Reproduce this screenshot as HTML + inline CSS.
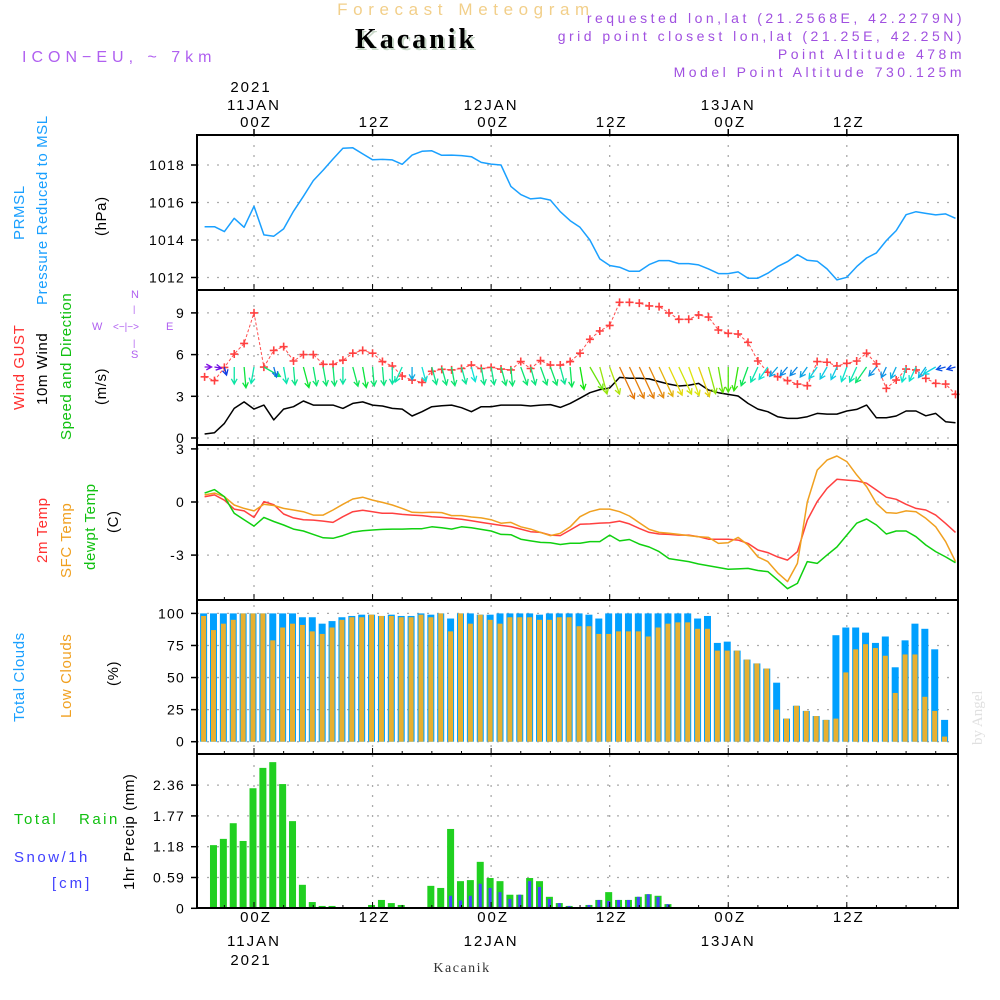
<!DOCTYPE html>
<html><head><meta charset="utf-8"><style>
html,body{margin:0;padding:0;background:#fff;}
svg{display:block;font-family:"Liberation Sans",sans-serif;}
.t{font-size:15px;letter-spacing:0.6px;}
</style></head><body>
<svg id="chart" width="1000" height="1000" viewBox="0 0 1000 1000">
<text x="466" y="15" text-anchor="middle" fill="#f2cf8a" font-size="17" letter-spacing="5.6">Forecast Meteogram</text>
<text x="418" y="50" text-anchor="middle" fill="#c8d8c8" font-family="Liberation Serif,serif" font-weight="bold" font-size="28" letter-spacing="3">Kacanik</text>
<text x="416" y="48" text-anchor="middle" fill="#000" font-family="Liberation Serif,serif" font-weight="bold" font-size="28" letter-spacing="3">Kacanik</text>
<text x="22" y="62" fill="#b060f0" font-size="16" letter-spacing="5">ICON−EU, ~ 7km</text>
<g fill="#a050e0" font-size="14" letter-spacing="3.5" text-anchor="end">
<text x="965" y="23">requested lon,lat (21.2568E, 42.2279N)</text>
<text x="965" y="41">grid point closest lon,lat (21.25E, 42.25N)</text>
<text x="965" y="59">Point Altitude 478m</text>
<text x="965" y="77">Model Point Altitude 730.125m</text>
</g>
<g id="grid"></g>
<g id="marks"></g>
<g id="axes"></g>
<g id="labels">
<text transform="translate(24,240) rotate(-90)" fill="#1aa0ff" class="t">PRMSL</text>
<text transform="translate(47,305) rotate(-90)" fill="#1aa0ff" class="t">Pressure Reduced to MSL</text>
<text transform="translate(106,236) rotate(-90)" fill="#000" class="t">(hPa)</text>
<text transform="translate(24,410) rotate(-90)" fill="#ff3030" class="t">Wind GUST</text>
<text transform="translate(47,405) rotate(-90)" fill="#000" class="t">10m Wind</text>
<text transform="translate(71,440) rotate(-90)" fill="#10c010" class="t">Speed and Direction</text>
<text transform="translate(106,405) rotate(-90)" fill="#000" class="t">(m/s)</text>
<g fill="#b060f0" font-size="11">
<text x="131" y="298">N</text><text x="92" y="330">W</text><text x="166" y="330">E</text><text x="131" y="358">S</text>
<text x="113" y="330" font-size="10">&lt;−|−&gt;</text>
<text x="133" y="312" font-size="9">|</text><text x="133" y="346" font-size="9">|</text>
</g>
<text transform="translate(47,563) rotate(-90)" fill="#ff3030" class="t">2m Temp</text>
<text transform="translate(71,578) rotate(-90)" fill="#f0a020" class="t">SFC Temp</text>
<text transform="translate(95,570) rotate(-90)" fill="#10c010" class="t">dewpt Temp</text>
<text transform="translate(118,533) rotate(-90)" fill="#000" class="t">(C)</text>
<text transform="translate(24,722) rotate(-90)" fill="#1aa0ff" class="t">Total Clouds</text>
<text transform="translate(71,718) rotate(-90)" fill="#f0a020" class="t">Low Clouds</text>
<text transform="translate(118,686) rotate(-90)" fill="#000" class="t">(%)</text>
<text x="14" y="824" fill="#10c010" font-size="15" letter-spacing="2.5">Total</text>
<text x="79" y="824" fill="#10c010" font-size="15" letter-spacing="2.5">Rain</text>
<text x="14" y="862" fill="#4040ff" font-size="15" letter-spacing="2.5">Snow/1h</text>
<text x="52" y="888" fill="#4040ff" font-size="15" letter-spacing="3">[cm]</text>
<text transform="translate(134,890) rotate(-90)" fill="#000" class="t">1hr Precip (mm)</text>
<text transform="translate(982,745) rotate(-90)" fill="#e0e0e0" font-family="Liberation Serif,serif" font-size="15">by Angel</text>
<text x="462" y="972" text-anchor="middle" fill="#333" font-family="Liberation Serif,serif" font-size="14" letter-spacing="1.5">Kacanik</text>
</g>
</svg>
<script>
const hours = [];
for (let h = -5; h <= 71; h++) hours.push(h);
const pressure = [1014.71,1014.71,1014.45,1015.16,1014.68,1015.8,1014.27,1014.2,1014.59,1015.53,1016.33,1017.17,1017.73,1018.32,1018.89,1018.92,1018.59,1018.28,1018.3,1018.27,1018.04,1018.53,1018.73,1018.76,1018.52,1018.53,1018.5,1018.44,1018.14,1018.05,1018,1016.86,1016.42,1016.19,1016.24,1016.13,1015.51,1015.03,1014.68,1014.0,1012.99,1012.64,1012.55,1012.33,1012.33,1012.69,1012.9,1012.9,1012.74,1012.74,1012.67,1012.46,1012.21,1012.21,1012.3,1011.96,1011.96,1012.23,1012.58,1012.85,1013.22,1012.92,1012.87,1012.46,1011.87,1012.01,1012.58,1013.04,1013.31,1013.97,1014.5,1015.35,1015.51,1015.42,1015.34,1015.39,1015.16];
const gust = [4.4,4.13,5.08,6.04,6.8,9.0,5.1,6.3,6.57,5.54,6.0,6.0,5.3,5.3,5.6,6.1,6.3,6.1,5.5,5.18,4.46,4.17,4.0,4.8,4.94,4.9,5.0,5.25,5.0,5.08,4.96,4.9,5.5,5.0,5.57,5.25,5.25,5.5,6.1,7.1,7.7,8.1,9.76,9.76,9.7,9.5,9.45,9.0,8.54,8.54,8.85,8.7,7.77,7.53,7.48,6.88,5.54,4.73,4.41,4.13,3.88,3.76,5.5,5.45,5.18,5.37,5.54,6.1,5.33,3.57,4.17,4.96,4.9,4.29,3.93,3.88,3.14];
const wind10 = [0.29,0.38,1.05,2.13,2.6,2.08,2.37,1.3,2.08,2.25,2.66,2.37,2.37,2.37,2.13,2.49,2.6,2.37,2.3,2.13,2.08,1.58,1.89,2.25,2.32,2.37,2.18,1.89,2.25,2.25,2.37,2.37,2.37,2.3,2.37,2.4,2.2,2.49,2.86,3.26,3.48,3.6,4.36,4.3,4.3,4.25,4.06,3.88,3.74,3.8,3.93,3.45,3.26,3.14,3.02,2.49,2.08,1.89,1.53,1.41,1.41,1.53,1.77,1.72,1.72,1.94,2.06,2.37,1.45,1.45,1.58,1.94,1.94,1.6,1.77,1.17,1.1];
const windDir = [90,80,15,0,5,-10,60,15,10,5,15,10,10,5,0,15,10,5,5,0,-25,0,15,15,15,10,15,15,10,10,15,5,20,15,20,20,15,5,10,30,15,20,25,25,25,25,25,25,25,20,20,15,10,0,-10,-20,-25,-35,-40,-40,-40,-35,-35,-30,-25,-20,-25,-35,-40,-25,-25,-15,-25,-35,-60,-75,-75];
const temp2m = [0.3,0.4,0.1,-0.4,-0.5,-0.87,0.02,-0.15,-0.68,-0.9,-1.0,-1.02,-1.08,-1.15,-0.83,-0.55,-0.47,-0.55,-0.64,-0.64,-0.7,-0.74,-0.77,-0.83,-0.87,-0.92,-0.98,-1.06,-1.15,-1.24,-1.32,-1.39,-1.53,-1.68,-1.72,-1.87,-1.9,-1.58,-1.26,-1.24,-1.19,-1.17,-1.08,-1.24,-1.49,-1.72,-1.81,-1.83,-1.87,-1.87,-1.96,-2.1,-2.1,-2.1,-2.15,-2.34,-2.71,-2.86,-3.1,-3.28,-2.81,-1.02,0.02,0.77,1.28,1.24,1.19,1.06,0.68,0.27,0.15,-0.13,-0.36,-0.45,-0.74,-1.21,-1.72];
const sfcTemp = [0.4,0.5,0.3,-0.17,-0.36,-0.5,-0.13,-0.2,-0.36,-0.45,-0.55,-0.74,-0.74,-0.45,-0.13,0.17,0.27,0.11,-0.02,-0.17,-0.36,-0.58,-0.6,-0.58,-0.6,-0.77,-0.77,-0.85,-0.9,-1.0,-1.2,-1.15,-1.4,-1.53,-1.72,-1.9,-1.77,-1.4,-0.83,-0.55,-0.4,-0.4,-0.55,-0.79,-1.17,-1.55,-1.72,-1.77,-1.83,-1.9,-1.96,-2.0,-2.34,-2.3,-2.0,-2.43,-3.1,-3.37,-4.0,-4.5,-3.47,0.0,1.8,2.37,2.6,2.28,1.53,0.87,-0.08,-0.6,-0.64,-0.5,-0.55,-0.92,-1.4,-2.24,-3.37];
const dewpt = [0.5,0.7,0.3,-0.64,-1.0,-1.36,-0.87,-1.1,-1.3,-1.53,-1.64,-1.83,-2.02,-2.05,-1.9,-1.7,-1.62,-1.58,-1.55,-1.53,-1.53,-1.51,-1.51,-1.4,-1.45,-1.53,-1.4,-1.45,-1.55,-1.64,-1.83,-1.85,-2.1,-2.2,-2.28,-2.3,-2.4,-2.33,-2.33,-2.24,-2.24,-1.87,-2.2,-2.12,-2.38,-2.54,-2.8,-3.2,-3.28,-3.37,-3.5,-3.6,-3.7,-3.8,-3.78,-3.75,-3.87,-3.93,-4.4,-4.9,-4.6,-3.37,-3.47,-3.0,-2.54,-1.87,-1.2,-0.96,-1.3,-1.81,-1.64,-1.64,-1.96,-2.43,-2.8,-3.1,-3.43];
const barHours = [];
for (let h = -5; h <= 70; h++) barHours.push(h);
const totalClouds = [100,100,100,100,100,100,100,100,100,100,97,97,92,94,97,98,99,99,98,99,98,98,100,99,100,96,100,100,99,99,100,100,100,100,99,100,100,100,100,99,96,100,100,100,100,100,100,100,100,100,96,98,77,78,71,64,61,57,46,18,28,24,20,17,83,89,89,85,77,82,58,79,92,88,72,17];
const lowClouds = [98,87,92,95,100,100,100,79,89,92,91,86,84,89,95,97,97,99,98,98,97,97,99,97,100,86,100,92,99,95,92,97,97,97,95,95,97,97,90,90,84,84,86,86,86,82,89,92,93,93,88,88,71,71,71,64,61,57,25,18,28,24,20,17,18,54,72,76,73,67,38,68,68,35,24,4];
const rain = [0,1.21,1.33,1.63,1.29,2.30,2.69,2.80,2.38,1.67,0.45,0.12,0.045,0.045,0.025,0,0,0.064,0.16,0.10,0.064,0,0,0.43,0.39,1.52,0.52,0.54,0.89,0.58,0.52,0.26,0.26,0.58,0.52,0.22,0.10,0.045,0.025,0.064,0.16,0.31,0.16,0.16,0.22,0.27,0.24,0.08,0.025,0.005,0,0,0,0,0,0,0,0,0,0,0,0,0,0,0,0,0,0,0,0,0,0,0,0,0,0];
const snow = [0,0,0,0,0,0,0,0,0,0,0,0,0,0,0,0,0,0,0,0,0,0,0,0,0,0.24,0.15,0.24,0.47,0.39,0.31,0.18,0.26,0.52,0.41,0.18,0.10,0.045,0.025,0.064,0.16,0.14,0.16,0.16,0.22,0.27,0.22,0.08,0.025,0.005,0,0,0,0,0,0,0,0,0,0,0,0,0,0,0,0,0,0,0,0,0,0,0,0,0,0];
const pressTicks = [1012,1014,1016,1018];
const windTicks = [0,3,6,9];
const tempTicks = [-3,0,3];
const cloudTicks = [0,25,50,75,100];
const precipTicks = [0,0.59,1.18,1.77,2.36];
const timeTicks = [0,12,24,36,48,60];
const timeLabels = ["00Z","12Z","00Z","12Z","00Z","12Z"];
const dayLabels = ["11JAN","","12JAN","","13JAN",""];

const NS = "http://www.w3.org/2000/svg";
const L = 197, R = 958;
function xs(h){ return 254 + 9.88*h; }
const yP = v => 165 + (1018 - v)*18.75;
const yW = v => 438 - 13.9*v;
const yT = v => 502 - 17.7*v;
const yC = v => 741.7 - 1.283*v;
const yR = v => 908.3 - 52.2*v;
const panels = [[135,290],[290,445],[445,600],[600,754],[754,908]];

function el(tag, attrs, parent){
  const e = document.createElementNS(NS, tag);
  for (const k in attrs) e.setAttribute(k, attrs[k]);
  parent.appendChild(e);
  return e;
}
const grid = document.getElementById('grid');
const marks = document.getElementById('marks');
const axes = document.getElementById('axes');

function hgrid(ticks, yf, fmt, name){
  ticks.forEach(t => {
    const y = yf(t);
    const g = el('line', {x1:L, x2:R, y1:y, y2:y, stroke:'#aaa', 'stroke-width':1.3, 'stroke-dasharray':'2 8'}, grid);
    
    
    const tk = el('line', {x1:L-6, x2:L, y1:y, y2:y, stroke:'#000', 'stroke-width':1.5}, axes);
    
    
    const tx = el('text', {x:L-12, y:y+5, 'text-anchor':'end', 'font-size':14, 'letter-spacing':1.2, fill:'#000'}, axes);
    tx.textContent = fmt(t);
    
    
  });
}
hgrid(pressTicks, yP, t=>String(t), 'pressure');
hgrid(windTicks, yW, t=>String(t), 'wind');
hgrid(tempTicks, yT, t=>String(t), 'temp');
hgrid(cloudTicks, yC, t=>String(t), 'cloud');
hgrid(precipTicks, yR, t=>t===0?'0':t.toFixed(2), 'precip');

timeTicks.forEach(h => {
  const x = xs(h);
  const v = el('line', {x1:x, x2:x, y1:135, y2:908, stroke:'#aaa', 'stroke-width':1.3, 'stroke-dasharray':'2 8'}, grid);
  
  
});
for (let h = -3; h <= 71; h += 3) {
  const x = xs(h), big = h % 12 === 0;
  panels.forEach(p => {
    const a = el('line', {x1:x, x2:x, y1:p[1], y2:p[1]-(big?6:3), stroke:'#000', 'stroke-width':1}, axes);
    
    
  });
  if (big) {
    const a = el('line', {x1:x, x2:x, y1:135, y2:129, stroke:'#000', 'stroke-width':1.5}, axes);
    
    
  }
}
timeTicks.forEach((h, i) => {
  const x = xs(h) + 2;
  const a = el('text', {x:x, y:127, 'text-anchor':'middle', 'font-size':15, 'letter-spacing':2}, axes);
  a.textContent = timeLabels[i];
  
  
  const b = el('text', {x:x, y:922, 'text-anchor':'middle', 'font-size':15, 'letter-spacing':2}, axes);
  b.textContent = timeLabels[i];
  
  
  if (dayLabels[i]) {
    const c = el('text', {x:x-2, y:110, 'text-anchor':'middle', 'font-size':15, 'letter-spacing':2}, axes);
    c.textContent = dayLabels[i];
    
    
    const d = el('text', {x:x-2, y:946, 'text-anchor':'middle', 'font-size':15, 'letter-spacing':2}, axes);
    d.textContent = dayLabels[i];
    
    
  }
});
[92, 965].forEach(yy => {
  const t = el('text', {x:xs(0)-3, y:yy, 'text-anchor':'middle', 'font-size':15, 'letter-spacing':2}, axes);
  t.textContent = '2021';
  
  
});

// clouds
barHours.forEach((h, i) => {
  const x = xs(h) - 1;
  const b = el('rect', {x:x-3.5, y:yC(totalClouds[i]), width:7, height:yC(0)-yC(totalClouds[i]), fill:'#00a0ff'}, marks);
  
  
  const o = el('rect', {x:x-2.5, y:yC(lowClouds[i]), width:5, height:yC(0)-yC(lowClouds[i]), fill:'#e8b030'}, marks);
  
  
});
// precip
barHours.forEach((h, i) => {
  const x = xs(h) - 1;
  if (rain[i] > 0) {
    const b = el('rect', {x:x-3.5, y:yR(rain[i]), width:7, height:yR(0)-yR(rain[i]), fill:'#20d020'}, marks);
    
    
  }
  if (snow[i] > 0) {
    const s = el('rect', {x:x-1.5, y:yR(snow[i]), width:3, height:yR(0)-yR(snow[i]), fill:'#4444ff'}, marks);
    
    
  }
});
function line(vals, yf, color, name, w){
  const pts = vals.map((v,i) => xs(hours[i]).toFixed(1)+','+yf(v).toFixed(1)).join(' ');
  const p = el('polyline', {points:pts, fill:'none', stroke:color, 'stroke-width':w||1.5, 'stroke-linejoin':'round'}, marks);
  
  
  return p;
}
line(pressure, yP, '#1aa0ff', 'pressure-line');
line(temp2m, yT, '#ff4040', 'temp-2m-line');
line(sfcTemp, yT, '#f0a020', 'sfc-temp-line');
line(dewpt, yT, '#10d010', 'dewpoint-line');
line(wind10, yW, '#000', 'wind-10m-line');
line(gust, yW, '#ff5050', 'gust-line', 1).setAttribute('stroke-dasharray', '3 2');
gust.forEach((v, i) => {
  const x = xs(hours[i]), y = yW(v);
  const m = el('path', {d:`M${x-4},${y}H${x+4}M${x},${y-4}V${y+4}`, stroke:'#ff4040', 'stroke-width':1.6}, marks);
  
  
});
// wind arrows
function hue(s){ return Math.max(30, Math.min(280, 290 - 60*s)); }
wind10.forEach((s, i) => {
  const x0 = xs(hours[i]), y0 = 367;
  const len = Math.max(7, 8*s);
  const a = windDir[i]*Math.PI/180;
  const dx = Math.sin(a), dy = Math.cos(a);
  const x1 = x0 + dx*len, y1 = y0 + dy*len;
  const hl = 6, sp = 0.5;
  const bx = -dx, by = -dy;
  const c = Math.cos(sp), sn = Math.sin(sp);
  const h1x = x1 + hl*(bx*c - by*sn), h1y = y1 + hl*(bx*sn + by*c);
  const h2x = x1 + hl*(bx*c + by*sn), h2y = y1 + hl*(-bx*sn + by*c);
  const col = `hsl(${hue(s)},90%,47%)`;
  const p = el('path', {d:`M${x0},${y0}L${x1},${y1}M${h1x},${h1y}L${x1},${y1}L${h2x},${h2y}`, stroke:col, 'stroke-width':1.3, fill:'none'}, marks);
  
  
});
// panel borders
panels.forEach((p, i) => {
  const r = el('rect', {x:L, y:p[0], width:R-L, height:p[1]-p[0], fill:'none', stroke:'#000', 'stroke-width':2}, axes);
  
  
});
</script>
</body></html>
